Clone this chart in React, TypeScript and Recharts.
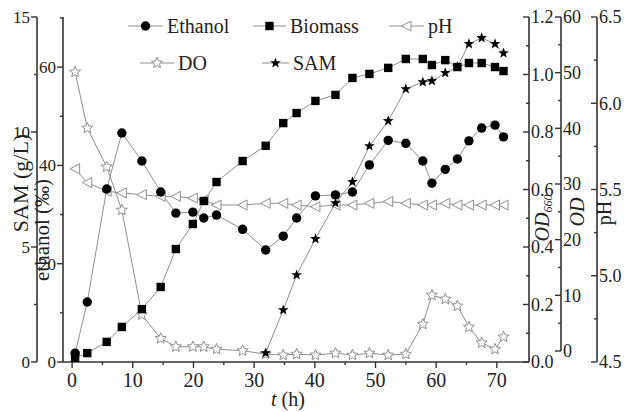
import React from "react";
import { ComposedChart, Line, XAxis, YAxis } from "recharts";

// sampling times (h)
const hours = [
  0.5, 2.5, 5.7, 8.2, 11.5, 14.6, 17.1, 19.9, 21.7, 23.8, 28.1, 31.9, 34.8, 37.0,
  40.1, 43.4, 46.2, 49.0, 52.1, 55.0, 57.8, 59.3, 61.5, 63.5, 65.4, 67.5, 69.7, 71.1,
];
// ethanol (‰)
const ethanol = [
  1.8, 12.2, 35.2, 46.6, 40.9, 34.6, 30.3, 30.5, 29.3, 29.9, 27.0, 22.8, 25.6, 29.3,
  33.8, 34.0, 34.6, 40.1, 45.1, 44.5, 40.9, 36.4, 39.2, 41.3, 45.0, 47.6, 48.2, 45.8,
];
// biomass (OD660)
const biomass = [
  0.014, 0.031, 0.07, 0.122, 0.184, 0.261, 0.393, 0.48, 0.56, 0.626, 0.699, 0.752, 0.831, 0.866,
  0.908, 0.929, 0.988, 1.002, 1.023, 1.054, 1.054, 1.033, 1.05, 1.026, 1.04, 1.04, 1.026, 1.012,
];
const ph = [
  5.62, 5.54, 5.49, 5.48, 5.47, 5.46, 5.46, 5.45, 5.44, 5.41, 5.41, 5.42, 5.42, 5.41,
  5.4, 5.41, 5.41, 5.42, 5.43, 5.42, 5.41, 5.41, 5.42, 5.41, 5.41, 5.41, 5.41, 5.41,
];
// dissolved oxygen (%)
const dissolvedOxygen = [
  59.0, 47.6, 39.7, 30.9, 9.6, 4.8, 3.1, 3.1, 3.1, 2.6, 2.3, 1.6, 1.4, 1.6,
  1.4, 1.8, 1.4, 1.8, 1.4, 1.6, 7.7, 13.6, 12.8, 11.4, 7.1, 3.9, 2.6, 5.1,
];
// SAM (g/L), sampled from 31.9 h on
const sam = [
  null, null, null, null, null, null, null, null, null, null, null, 0.39, 2.26, 3.78,
  5.35, 6.91, 7.83, 9.39, 10.48, 11.87, 12.17, 12.22, 12.57, 12.83, 13.83, 14.09, 13.83, 13.43,
];

const xTicks = [0, 5, 10, 15, 20, 25, 30, 35, 40, 45, 50, 55, 60, 65, 70];
const samTicks = [0, 2.5, 5, 7.5, 10, 12.5, 15];
const ethanolTicks = [0, 10, 20, 30, 40, 50, 60, 70];
const od660Ticks = [0, 0.1, 0.2, 0.3, 0.4, 0.5, 0.6, 0.7, 0.8, 0.9, 1.0, 1.1, 1.2];
const odTicks = [0, 5, 10, 15, 20, 25, 30, 35, 40, 45, 50, 55, 60];
const phTicks = [4.5, 4.75, 5.0, 5.25, 5.5, 5.75, 6.0, 6.25, 6.5];

const data = hours.map((t, i) => ({
  t,
  ethanol: ethanol[i],
  biomass: biomass[i],
  ph: ph[i],
  dissolvedOxygen: dissolvedOxygen[i],
  sam: sam[i],
}));

const FONT = '"Liberation Serif", Tinos, "Times New Roman", "DejaVu Serif", serif';
const AXIS = "#333";
const LINE = "#8f8f8f";
const TEXT = "#222";

const W = 628;
const H = 412;
const PLOT_TOP = 17;
const PLOT_H = 345;
const OD_MIN = -1.98;
const OD_MAX = 60;

function starPoints(cx: number, cy: number, R: number, r: number) {
  const pts: string[] = [];
  for (let i = 0; i < 10; i++) {
    const a = -Math.PI / 2 + (i * Math.PI) / 5;
    const rad = i % 2 === 0 ? R : r;
    pts.push(`${cx + rad * Math.cos(a)},${cy + rad * Math.sin(a)}`);
  }
  return pts.join(" ");
}

type Kind = "circle" | "square" | "triangle" | "openStar" | "star";

function drawMarker(kind: Kind, cx: number, cy: number) {
  switch (kind) {
    case "circle":
      return <circle cx={cx} cy={cy} r={4.7} fill="#000" />;
    case "square":
      return <rect x={cx - 4.2} y={cy - 4.2} width={8.4} height={8.4} fill="#000" />;
    case "triangle":
      return (
        <polygon
          points={`${cx - 5},${cy} ${cx + 4.5},${cy - 5} ${cx + 4.5},${cy + 5}`}
          fill="#fff"
          stroke={LINE}
          strokeWidth={1}
        />
      );
    case "openStar":
      return <polygon points={starPoints(cx, cy, 5.8, 2.6)} fill="#fff" stroke={LINE} strokeWidth={1} />;
    default:
      return <polygon points={starPoints(cx, cy, 5.6, 2.3)} fill="#000" />;
  }
}

const dotFor = (kind: Kind) => (props: any) => {
  const { cx, cy, index, value } = props;
  if (cx == null || cy == null || value == null || Number.isNaN(cy)) return <g key={`d-${index}`} />;
  return <g key={`d-${index}`}>{drawMarker(kind, cx, cy)}</g>;
};

type Side = "left" | "right" | "bottom";

function makeTick(
  side: Side,
  isMajor: (v: number, i: number) => boolean,
  fmt: (v: number) => string,
  fontSize: number,
  extra?: (v: number, x: number, y: number) => React.ReactNode
) {
  return (props: any) => {
    const { x, y, payload, index } = props;
    const v = payload.value as number;
    const major = isMajor(v, index);
    const len = major ? 6 : 3;
    const textStyle = { fontFamily: FONT, fontSize };
    if (side === "bottom") {
      return (
        <g>
          <line x1={x} x2={x} y1={y} y2={y + len} stroke={AXIS} strokeWidth={1.4} />
          {major && (
            <text x={x} y={y + 25} textAnchor="middle" style={textStyle} fill={TEXT}>
              {fmt(v)}
            </text>
          )}
        </g>
      );
    }
    if (side === "left") {
      return (
        <g>
          <line x1={x - len} x2={x} y1={y} y2={y} stroke={AXIS} strokeWidth={1.4} />
          {major && (
            <text x={x - 7} y={y} dy="0.35em" textAnchor="end" style={textStyle} fill={TEXT}>
              {fmt(v)}
            </text>
          )}
        </g>
      );
    }
    return (
      <g>
        {extra && extra(v, x, y)}
        <line x1={x - len} x2={x} y1={y} y2={y} stroke={AXIS} strokeWidth={1.4} />
        {major && (
          <text x={x + 2} y={y} dy="0.35em" textAnchor="start" style={textStyle} fill={TEXT}>
            {fmt(v)}
          </text>
        )}
      </g>
    );
  };
}

const evenIdx = (_v: number, i: number) => i % 2 === 0;
const odPx = PLOT_H / (OD_MAX - OD_MIN);
// the OD axis line only runs from 0 to 60
const odSegment = (v: number, x: number, y: number) =>
  v < OD_MAX ? <line x1={x} x2={x} y1={y} y2={y - 5 * odPx} stroke={AXIS} strokeWidth={1.6} /> : null;

function LegendRow({ x1, x2, y, kind, label }: { x1: number; x2: number; y: number; kind: Kind; label: string }) {
  const mid = (x1 + x2) / 2;
  return (
    <g>
      <line x1={x1} x2={x2} y1={y} y2={y} stroke={LINE} strokeWidth={1} />
      {drawMarker(kind, mid, y)}
      <text x={x2 + 4} y={y + 7} style={{ fontFamily: FONT, fontSize: 20 }} fill={TEXT}>
        {label}
      </text>
    </g>
  );
}

const axisLine = { stroke: AXIS, strokeWidth: 1.6 };

export default function App() {
  return (
    <div style={{ position: "absolute", left: 0, top: 0, width: W, height: H, background: "#fff" }}>
      <ComposedChart
        width={W}
        height={H}
        data={data}
        margin={{ top: PLOT_TOP, right: 0, bottom: 0, left: 0 }}
        style={{ position: "absolute", left: 0, top: 0 }}
      >
        <XAxis
          dataKey="t"
          type="number"
          domain={[-1.5, 75.3]}
          ticks={xTicks}
          interval={0}
          height={50}
          allowDataOverflow
          axisLine={axisLine}
          tickLine={false}
          tickSize={0}
          tickMargin={0}
          tick={makeTick("bottom", (v) => v % 10 === 0, (v) => String(v), 20)}
        />
        <YAxis
          yAxisId="a1_ethanol"
          orientation="left"
          width={26}
          domain={[0, 70.2]}
          ticks={ethanolTicks}
          interval={0}
          allowDataOverflow
          axisLine={axisLine}
          tickLine={false}
          tickSize={0}
          tickMargin={0}
          tick={makeTick("left", (v) => v % 20 === 0, (v) => String(v), 17)}
        />
        <YAxis
          yAxisId="a2_sam"
          orientation="left"
          width={37}
          domain={[0, 15]}
          ticks={samTicks}
          interval={0}
          allowDataOverflow
          axisLine={axisLine}
          tickLine={false}
          tickSize={0}
          tickMargin={0}
          tick={makeTick("left", (v) => v % 5 === 0, (v) => String(v), 17)}
        />
        <YAxis
          yAxisId="b1_od660"
          orientation="right"
          width={32}
          domain={[0, 1.2]}
          ticks={od660Ticks}
          interval={0}
          allowDataOverflow
          axisLine={axisLine}
          tickLine={false}
          tickSize={0}
          tickMargin={0}
          tick={makeTick("right", evenIdx, (v) => v.toFixed(1), 18)}
        />
        <YAxis
          yAxisId="b2_od"
          orientation="right"
          width={36}
          domain={[OD_MIN, OD_MAX]}
          ticks={odTicks}
          interval={0}
          allowDataOverflow
          axisLine={false}
          tickLine={false}
          tickSize={0}
          tickMargin={0}
          tick={makeTick("right", (v) => v % 10 === 0, (v) => String(v), 18, odSegment)}
        />
        <YAxis
          yAxisId="b3_ph"
          orientation="right"
          width={31}
          domain={[4.5, 6.5]}
          ticks={phTicks}
          interval={0}
          allowDataOverflow
          axisLine={axisLine}
          tickLine={false}
          tickSize={0}
          tickMargin={0}
          tick={makeTick("right", evenIdx, (v) => v.toFixed(1), 18)}
        />
        <Line yAxisId="b3_ph" dataKey="ph" stroke={LINE} strokeWidth={1} dot={dotFor("triangle")} activeDot={false} isAnimationActive={false} />
        <Line yAxisId="a1_ethanol" dataKey="dissolvedOxygen" stroke={LINE} strokeWidth={1} dot={dotFor("openStar")} activeDot={false} isAnimationActive={false} />
        <Line yAxisId="b1_od660" dataKey="biomass" stroke={LINE} strokeWidth={1} dot={dotFor("square")} activeDot={false} isAnimationActive={false} />
        <Line yAxisId="a1_ethanol" dataKey="ethanol" stroke={LINE} strokeWidth={1} dot={dotFor("circle")} activeDot={false} isAnimationActive={false} />
        <Line yAxisId="a2_sam" dataKey="sam" stroke={LINE} strokeWidth={1} dot={dotFor("star")} activeDot={false} isAnimationActive={false} />
      </ComposedChart>

      <svg width={W} height={H} style={{ position: "absolute", left: 0, top: 0, pointerEvents: "none" }}>
        <LegendRow x1={128} x2={163} y={26} kind="circle" label="Ethanol" />
        <LegendRow x1={253} x2={286} y={26} kind="square" label="Biomass" />
        <LegendRow x1={389} x2={424} y={26} kind="triangle" label="pH" />
        <LegendRow x1={140} x2={174} y={63} kind="openStar" label="DO" />
        <LegendRow x1={262} x2={289} y={63} kind="star" label="SAM" />

        <text x={28} y={183} transform="rotate(-90 28 183)" textAnchor="middle" style={{ fontFamily: FONT, fontSize: 22 }} fill={TEXT}>
          SAM (g/L)
        </text>
        <text x={49} y={230} transform="rotate(-90 49 230)" textAnchor="middle" style={{ fontFamily: FONT, fontSize: 21 }} fill={TEXT}>
          ethanol (‰)
        </text>
        <text x={549} y={218} transform="rotate(-90 549 218)" textAnchor="middle" style={{ fontFamily: FONT, fontSize: 20 }} fill={TEXT}>
          <tspan fontStyle="italic">OD</tspan>
          <tspan fontStyle="italic" fontSize={12} dy={3}>660</tspan>
        </text>
        <text x={584} y={212} transform="rotate(-90 584 212)" textAnchor="middle" style={{ fontFamily: FONT, fontSize: 20, fontStyle: "italic" }} fill={TEXT}>
          OD
        </text>
        <text x={611} y={213} transform="rotate(-90 611 213)" textAnchor="middle" style={{ fontFamily: FONT, fontSize: 20 }} fill={TEXT}>
          pH
        </text>
        <text x={288} y={406} textAnchor="middle" style={{ fontFamily: FONT, fontSize: 20 }} fill={TEXT}>
          <tspan fontStyle="italic">t</tspan> (h)
        </text>
      </svg>
    </div>
  );
}
